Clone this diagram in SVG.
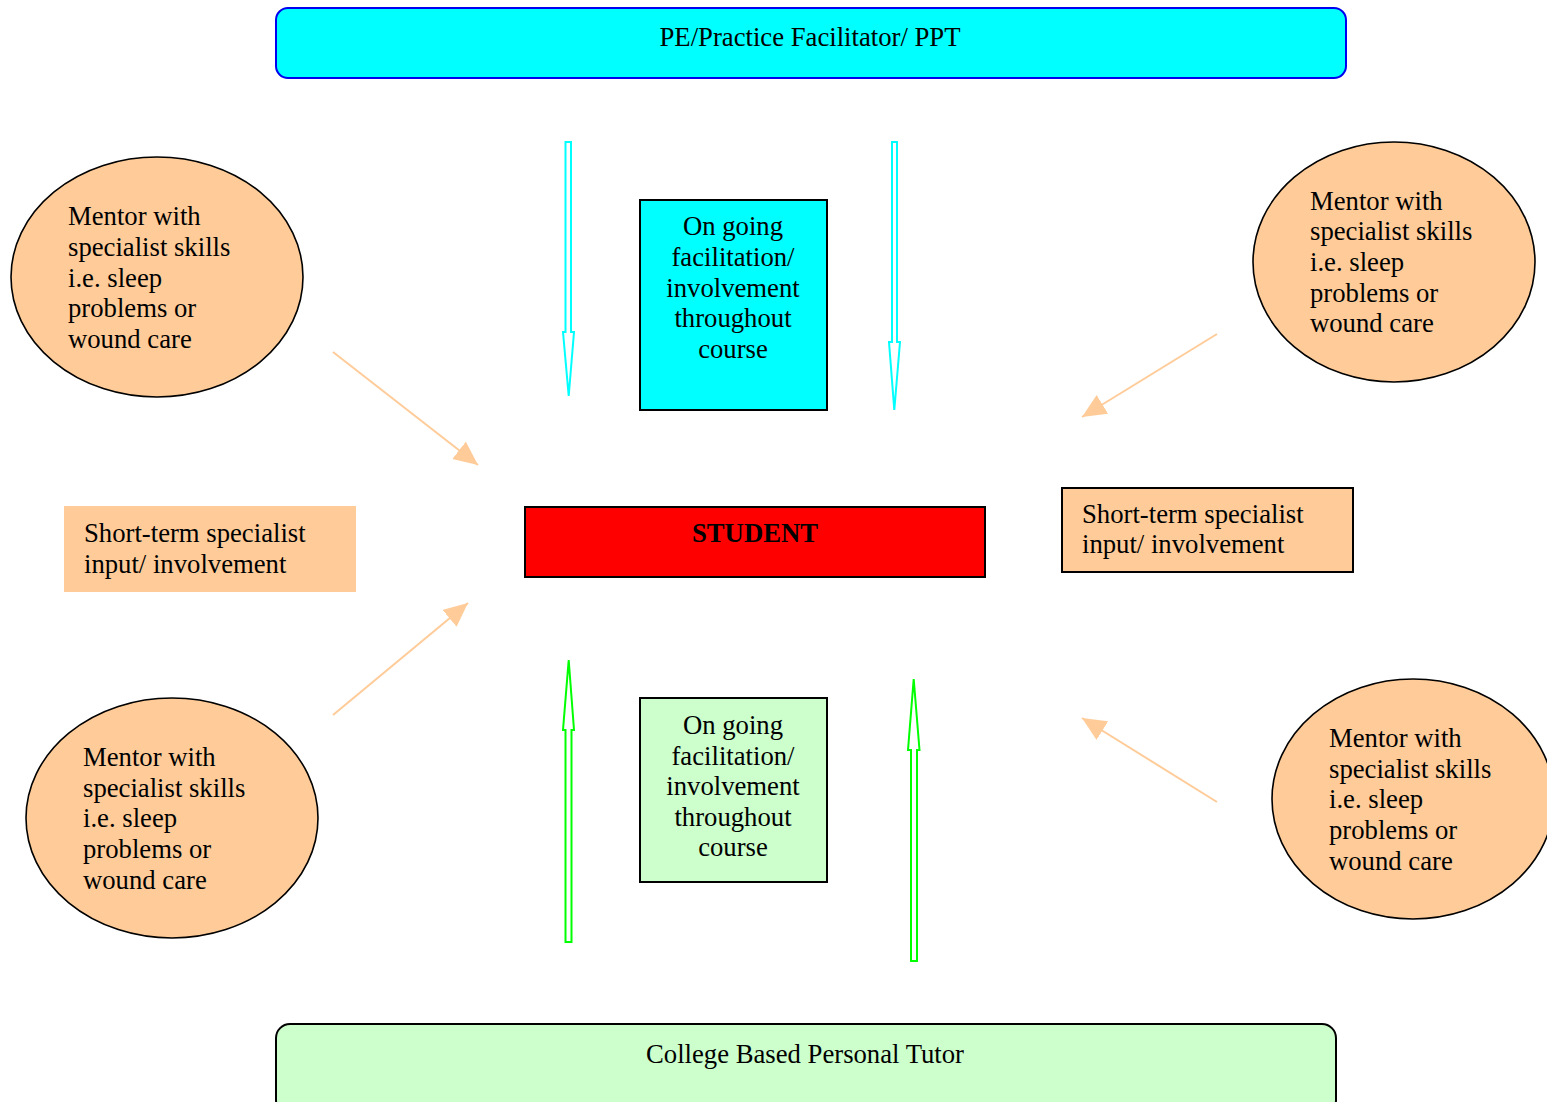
<svg xmlns="http://www.w3.org/2000/svg" width="1547" height="1102" viewBox="0 0 1547 1102">
<style>
text{font-family:"Liberation Serif","Times New Roman",serif;font-size:26.7px;fill:#000}
.c{text-anchor:middle}
.ell{fill:#FFCC99;stroke:#000;stroke-width:1.6}
.orange{stroke:#FFCC99;stroke-width:2;fill:none}
.cy{fill:#fff;stroke:#00FFFF;stroke-width:2}
.gr{fill:#fff;stroke:#00FF00;stroke-width:2}
</style>
<defs>
<marker id="ah" markerUnits="userSpaceOnUse" markerWidth="26" markerHeight="24" refX="24" refY="11" orient="auto">
<path d="M0,0 L24,11 L0,22 Z" fill="#FFCC99"/>
</marker>
</defs>
<rect width="1547" height="1102" fill="#fff"/>
<g id="top">
<rect x="276" y="8" width="1070" height="70" rx="12" fill="#00FFFF" stroke="#0000EE" stroke-width="2"/>
<text class="c" x="810" y="46">PE/Practice Facilitator/ PPT</text>
</g>
<g id="bottom">
<rect x="276" y="1024" width="1060" height="90" rx="14" fill="#CCFFCC" stroke="#000" stroke-width="2"/>
<text class="c" x="805" y="1063">College Based Personal Tutor</text>
</g>
<g id="facil-top">
<rect x="640" y="200" width="187" height="210" fill="#00FFFF" stroke="#000" stroke-width="2"/>
<text class="c" x="733" y="235">On going</text>
<text class="c" x="733" y="266">facilitation/</text>
<text class="c" x="733" y="297">involvement</text>
<text class="c" x="733" y="327">throughout</text>
<text class="c" x="733" y="358">course</text>
</g>
<g id="facil-bottom">
<rect x="640" y="698" width="187" height="184" fill="#CCFFCC" stroke="#000" stroke-width="2"/>
<text class="c" x="733" y="734">On going</text>
<text class="c" x="733" y="765">facilitation/</text>
<text class="c" x="733" y="795">involvement</text>
<text class="c" x="733" y="826">throughout</text>
<text class="c" x="733" y="856">course</text>
</g>
<g id="student">
<rect x="525" y="507" width="460" height="70" fill="#FF0000" stroke="#000" stroke-width="2"/>
<text class="c" x="755" y="542" font-weight="bold">STUDENT</text>
</g>
<g id="short-left">
<rect x="64" y="506" width="292" height="86" fill="#FFCC99"/>
<text x="84" y="542">Short-term specialist</text>
<text x="84" y="573">input/ involvement</text>
</g>
<g id="short-right">
<rect x="1062" y="488" width="291" height="84" fill="#FFCC99" stroke="#000" stroke-width="2"/>
<text x="1082" y="523">Short-term specialist</text>
<text x="1082" y="553">input/ involvement</text>
</g>
<g id="mentor-tl">
<ellipse class="ell" cx="157" cy="277" rx="146" ry="120"/>
<text x="68" y="225">Mentor with</text>
<text x="68" y="256">specialist skills</text>
<text x="68" y="287">i.e. sleep</text>
<text x="68" y="317">problems or</text>
<text x="68" y="348">wound care</text>
</g>
<g id="mentor-tr">
<ellipse class="ell" cx="1394" cy="262" rx="141" ry="120"/>
<text x="1310" y="210">Mentor with</text>
<text x="1310" y="240">specialist skills</text>
<text x="1310" y="271">i.e. sleep</text>
<text x="1310" y="302">problems or</text>
<text x="1310" y="332">wound care</text>
</g>
<g id="mentor-bl">
<ellipse class="ell" cx="172" cy="818" rx="146" ry="120"/>
<text x="83" y="766">Mentor with</text>
<text x="83" y="797">specialist skills</text>
<text x="83" y="827">i.e. sleep</text>
<text x="83" y="858">problems or</text>
<text x="83" y="889">wound care</text>
</g>
<g id="mentor-br">
<ellipse class="ell" cx="1413" cy="799" rx="141" ry="120"/>
<text x="1329" y="747">Mentor with</text>
<text x="1329" y="778">specialist skills</text>
<text x="1329" y="808">i.e. sleep</text>
<text x="1329" y="839">problems or</text>
<text x="1329" y="870">wound care</text>
</g>
<g id="connectors">
<path class="cy" d="M565.5,142 H571 V332 H574 L568.7,396 L563,332 H565.5 Z"/>
<path class="cy" d="M892,142 H897 V342 H900 L894.3,410 L889,342 H892 Z"/>
<path class="gr" d="M565.5,942 H571.5 V730 H574 L568.7,660 L563,730 H565.5 Z"/>
<path class="gr" d="M911,961 H917 V750 H919.5 L913.7,679 L908,750 H911 Z"/>
<line class="orange" x1="333" y1="352" x2="478" y2="465" marker-end="url(#ah)"/>
<line class="orange" x1="1217" y1="334" x2="1082" y2="417" marker-end="url(#ah)"/>
<line class="orange" x1="333" y1="715" x2="468" y2="603" marker-end="url(#ah)"/>
<line class="orange" x1="1217" y1="802" x2="1082" y2="718" marker-end="url(#ah)"/>
</g>
</svg>
